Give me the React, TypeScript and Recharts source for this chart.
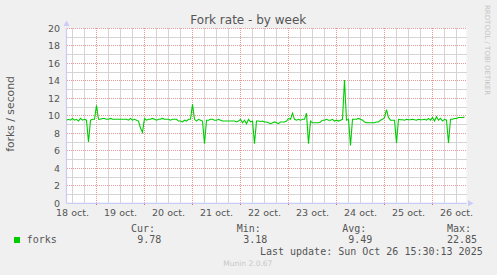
import React from 'react'
import { LineChart, Line, XAxis, YAxis, ReferenceLine, CartesianGrid } from 'recharts'

// hourly samples, first one is 18 oct. 09:00
const START_HOUR = 9
const END_HOUR = 209

const forks = [
  // 18 oct. 09h - 23h
  9.5, 9.6, 9.5, 9.7, 9.5, 9.6, 9.4, 9.7, 9.5, 9.6, 9.5, 7.0, 9.5, 9.6, 9.6,
  // 19 oct.
  11.2, 9.6, 9.6, 9.7, 9.7, 9.6, 9.6, 9.7, 9.6, 9.6, 9.6, 9.6, 9.6, 9.6, 9.6, 9.6, 9.5, 9.7, 9.5, 9.6, 9.5, 9.4, 8.6, 8.1,
  // 20 oct.
  9.7, 9.5, 9.6, 9.6, 9.7, 9.6, 9.5, 9.6, 9.6, 9.7, 9.6, 9.6, 9.6, 9.5, 9.6, 9.6, 9.6, 9.4, 9.4, 9.3, 9.5, 9.4, 9.6, 9.6,
  // 21 oct.
  11.3, 9.6, 9.4, 9.6, 9.5, 9.4, 6.8, 9.5, 9.5, 9.6, 9.6, 9.5, 9.5, 9.6, 9.5, 9.4, 9.4, 9.4, 9.4, 9.4, 9.4, 9.4, 9.3, 9.4,
  // 22 oct.
  9.6, 9.2, 9.5, 9.1, 9.6, 9.3, 9.4, 6.8, 9.4, 9.4, 9.35, 9.4, 9.3, 9.3, 9.2, 9.1, 9.2, 9.3, 9.2, 9.1, 9.3, 9.3, 9.3, 9.4,
  // 23 oct.
  9.7, 9.6, 10.3, 9.6, 9.5, 9.6, 9.5, 9.6, 9.6, 10.3, 6.8, 9.4, 9.2, 9.2, 9.2, 9.2, 9.3, 9.5, 9.5, 9.6, 9.5, 9.5, 9.6, 9.4,
  // 24 oct.
  9.5, 9.4, 9.5, 9.6, 14.1, 9.5, 9.6, 6.6, 9.6, 9.6, 9.6, 9.7, 9.6, 9.5, 9.3, 9.2, 9.2, 9.2, 9.2, 9.2, 9.3, 9.3, 9.5, 9.6,
  // 25 oct.
  9.8, 10.7, 9.8, 9.5, 9.5, 9.5, 6.9, 9.6, 9.55, 9.55, 9.5, 9.6, 9.55, 9.55, 9.6, 9.55, 9.5, 9.6, 9.55, 9.55, 9.6, 9.5, 9.7, 9.5,
  // 26 oct. until 17h
  9.8, 9.4, 9.9, 9.5, 9.7, 9.4, 9.6, 9.5, 6.9, 9.6, 9.6, 9.7, 9.7, 9.8, 9.8, 9.8, 9.85,
]

const dayLabels = ['18 oct.', '19 oct.', '20 oct.', '21 oct.', '22 oct.', '23 oct.', '24 oct.', '25 oct.', '26 oct.']
const labelHours = [12, 36, 60, 84, 108, 132, 156, 180, 204]
const midnightHours = [24, 48, 72, 96, 120, 144, 168, 192]
const sixHourMarks = [12, 18, 30, 36, 42, 54, 60, 66, 78, 84, 90, 102, 108, 114, 126, 132, 138, 150, 156, 162, 174, 180, 186, 198, 204]
const yMajor = [0, 2, 4, 6, 8, 10, 12, 14, 16, 18, 20]
const yMinor = [1, 3, 5, 7, 9, 11, 13, 15, 17, 19]

const stats = { cur: '9.78', min: '3.18', avg: '9.49', max: '22.85' }

const data = forks.map((v, i) => ({ h: START_HOUR + i, forks: v }))

const MAJOR = '#e79a9a'
const MINOR = '#d4d4d4'
const AXIS = '#c9ccf4'
const TEXT = '#555'
const SANS = '"DejaVu Sans", sans-serif'
const MONO = '"DejaVu Sans Mono", monospace'

const App: React.FC = () => {
  return (
    <div style={{ position: 'absolute', left: 0, top: 0, width: 497, height: 275, background: '#f0f0f0', overflow: 'hidden' }}>
      <LineChart
        width={497}
        height={275}
        data={data}
        margin={{ top: 28.3, right: 30.5, bottom: 41.7, left: 6.5 }}
        style={{ position: 'absolute', left: 0, top: 0 }}
      >
        <CartesianGrid
          fill="#fff"
          fillOpacity={1}
          stroke={MINOR}
          verticalValues={sixHourMarks}
          horizontalValues={yMinor}
          shapeRendering="crispEdges"
        />
        <XAxis
          type="number"
          dataKey="h"
          domain={[START_HOUR, END_HOUR]}
          ticks={labelHours}
          interval={0}
          allowDataOverflow
          axisLine={false}
          tickLine={false}
          tickSize={4}
          tickMargin={2}
          tickFormatter={v => dayLabels[labelHours.indexOf(v)] ?? ''}
          tick={{ fontSize: 9.5, fill: TEXT, fontFamily: SANS }}
        />
        <YAxis
          type="number"
          domain={[0, 20]}
          ticks={yMajor}
          interval={0}
          width={60}
          axisLine={false}
          tickLine={false}
          tickSize={2}
          tickMargin={4.5}
          tick={{ fontSize: 9.5, fill: TEXT, fontFamily: SANS }}
        />
        {sixHourMarks.map(h => (
          <ReferenceLine
            key={'minor-x-' + h}
            segment={[{ x: h, y: 0 }, { x: h, y: 20 }]}
            stroke={MINOR}
            strokeWidth={1}
            ifOverflow="visible"
          />
        ))}
        {yMajor.map(v => (
          <ReferenceLine key={'yM' + v} y={v} stroke={MAJOR} strokeDasharray="1 1" shapeRendering="crispEdges" />
        ))}
        {midnightHours.map(h => (
          <ReferenceLine key={'xM' + h} x={h} stroke={MAJOR} strokeDasharray="1 1" shapeRendering="crispEdges" />
        ))}
        {midnightHours.map(h => (
          <ReferenceLine key={'tM' + h} segment={[{ x: h, y: 0 }, { x: h, y: -0.25 }]} stroke="#e06060" ifOverflow="visible" shapeRendering="crispEdges" />
        ))}
        <ReferenceLine x={START_HOUR} stroke={AXIS} strokeWidth={1.2} />
        <ReferenceLine y={0} stroke={AXIS} strokeWidth={1.2} />
        <Line
          type="linear"
          dataKey="forks"
          stroke="#00cc00"
          strokeWidth={1.1}
          dot={false}
          isAnimationActive={false}
        />
      </LineChart>

      <svg width={497} height={275} style={{ position: 'absolute', left: 0, top: 0, pointerEvents: 'none' }}>
        {/* axis arrows */}
        <polygon points="66.5,20.5 63.5,26 69.5,26" fill={AXIS} />
        <polygon points="473.5,203.3 468,200.3 468,206.3" fill={AXIS} />

        <text x={248.3} y={24} textAnchor="middle" fontFamily={SANS} fontSize={12} fill={TEXT}>
          Fork rate - by week
        </text>
        <text x={14} y={114} textAnchor="middle" fontFamily={SANS} fontSize={10.8} fill={TEXT} transform="rotate(-90 14 114)">
          forks / second
        </text>
        <text x={485} y={5} fontFamily={SANS} fontSize={7} fill="#c4c4c4" transform="rotate(90 485 5)">
          RRDTOOL / TOBI OETIKER
        </text>

        <g fontFamily={MONO} fontSize={10} fill={TEXT}>
          <text x={131} y={231.7}>Cur:</text>
          <text x={236.7} y={231.7}>Min:</text>
          <text x={342.3} y={231.7}>Avg:</text>
          <text x={447} y={231.7}>Max:</text>
          <rect x={14} y={237} width={6} height={6} fill="#00cc00" />
          <text x={26.7} y={243.3}>forks</text>
          <text x={137.3} y={243.3}>{stats.cur}</text>
          <text x={243.3} y={243.3}>{stats.min}</text>
          <text x={348.3} y={243.3}>{stats.avg}</text>
          <text x={447} y={243.3}>{stats.max}</text>
          <text x={482.7} y={255} textAnchor="end">Last update: Sun Oct 26 15:30:13 2025</text>
        </g>
        <text x={223.3} y={265.7} fontFamily={SANS} fontSize={7.5} fill="#c8c8c8">
          Munin 2.0.67
        </text>
      </svg>
    </div>
  )
}

export default App
